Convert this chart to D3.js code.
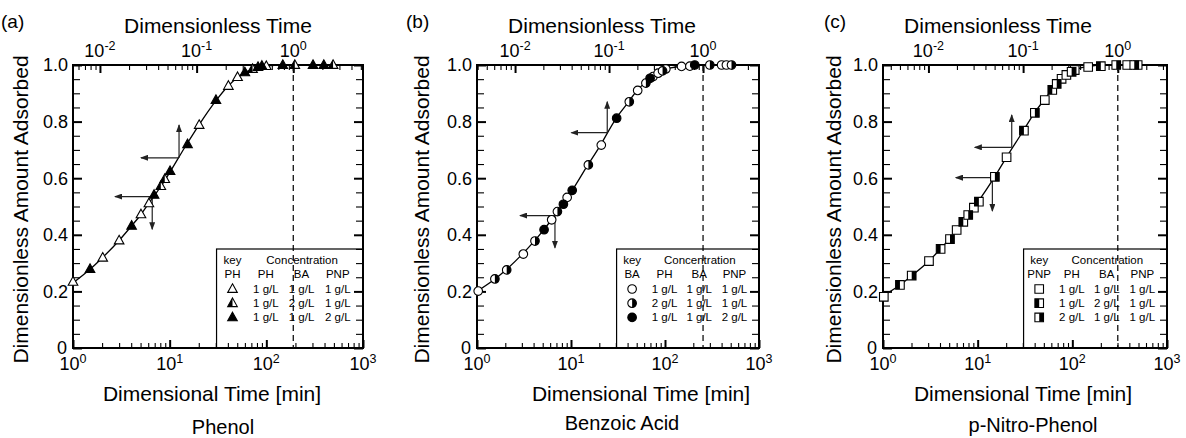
<!DOCTYPE html>
<html>
<head>
<meta charset="utf-8">
<title>Dimensionless uptake curves</title>
<script src="https://cdn.jsdelivr.net/npm/d3@7"></script>
<style>
  body { margin: 0; background: #fff; }
  svg text { font-family: "Liberation Sans", Arial, sans-serif; fill: #000; }
  .domain { display: none; }
  .tick line { stroke: #000; }
</style>
</head>
<body>
<div id="chart"></div>
<script>
// ---- data ----
const panelTags = ["(a)", "(b)", "(c)"];
const panelNames = ["Phenol", "Benzoic Acid", "p-Nitro-Phenol"];
const keyNames = ["PH", "BA", "PNP"];
const concHeaders = ["PH", "BA", "PNP"];
const tRef = [190, 254, 302];          // time [min] where dimensionless time = 1
const yTickValues = [0, 0.2, 0.4, 0.6, 0.8, 1.0];
const yTickLabels = ["0", "0.2", "0.4", "0.6", "0.8", "1.0"];
const bottomDecades = [0, 1, 2, 3];
const topDecades = [-2, -1, 0];

// legend rows: PH, BA, PNP concentrations
const concPhenol  = [["1 g/L", "1 g/L", "1 g/L"], ["1 g/L", "2 g/L", "1 g/L"], ["1 g/L", "1 g/L", "2 g/L"]];
const concBenzoic = [["1 g/L", "1 g/L", "1 g/L"], ["2 g/L", "1 g/L", "1 g/L"], ["1 g/L", "1 g/L", "2 g/L"]];
const concPnp     = [["1 g/L", "1 g/L", "1 g/L"], ["1 g/L", "2 g/L", "1 g/L"], ["2 g/L", "1 g/L", "1 g/L"]];

// measured points [time min, amount]
const phenolOpen = [[1.0, 0.234], [2.03, 0.319], [3.0, 0.380], [5.05, 0.472], [6.1, 0.511], [20.2, 0.788], [40.5, 0.926], [50.4, 0.957], [100, 0.996]];
const phenolHalf = [[8.1, 0.572], [8.9, 0.597], [72, 0.986], [197, 1.0], [490, 1.0]];
const phenolFull = [[1.5, 0.279], [4.04, 0.432], [6.9, 0.541], [10.1, 0.625], [15.3, 0.72], [30.1, 0.876], [60, 0.974], [82, 0.993], [90, 0.997], [148, 1.0], [304, 1.0], [393, 1.0]];

const benzoicOpen = [[1.03, 0.201], [3.11, 0.332], [6.23, 0.453], [9.1, 0.532], [21.0, 0.717], [51.2, 0.910], [74.7, 0.959], [84.5, 0.971], [102, 0.986], [150, 0.995], [184, 0.996], [400, 1.0], [450, 1.0]];
const benzoicHalf = [[1.55, 0.244], [2.07, 0.276], [4.14, 0.378], [7.17, 0.482], [15.3, 0.647], [41.7, 0.870], [62.6, 0.936], [94.2, 0.979], [300, 1.0], [510, 1.0]];
const benzoicFull = [[5.17, 0.418], [8.3, 0.508], [10.3, 0.557], [30.6, 0.812], [69.4, 0.953], [207, 1.0]];

const pnpOpen  = [[1.02, 0.181], [3.06, 0.307], [6.0, 0.417], [9.12, 0.496], [20.2, 0.674], [51.2, 0.876], [77, 0.951], [86.5, 0.965], [106, 0.982], [147, 0.993], [380, 1.0], [490, 1.0]];
const pnpHalfL = [[1.51, 0.223], [4.06, 0.350], [7.05, 0.446], [10.3, 0.517], [30.8, 0.768], [61.4, 0.912], [200, 0.996]];
const pnpHalfR = [[2.01, 0.256], [5.1, 0.385], [7.95, 0.470], [15.2, 0.605], [40.2, 0.831], [68.4, 0.933], [98.3, 0.976], [291, 1.0], [451, 1.0]];

// model curves
const phenolCurve = [[1, 0.23], [1.5, 0.278], [2, 0.318], [3, 0.38], [4, 0.43], [5, 0.47], [6, 0.508], [7, 0.54], [8, 0.568], [10, 0.62], [15, 0.72], [20, 0.787], [30, 0.873], [40, 0.925], [50, 0.955], [60, 0.973], [80, 0.99], [100, 0.997], [150, 1.0], [1000, 1.0]];
const benzoicCurve = [[1, 0.2], [1.5, 0.24], [2, 0.274], [3, 0.33], [4, 0.375], [5, 0.413], [6, 0.447], [7, 0.478], [8, 0.503], [10, 0.55], [15, 0.645], [20, 0.71], [30, 0.81], [40, 0.865], [50, 0.908], [60, 0.935], [80, 0.968], [100, 0.984], [150, 0.996], [200, 1.0], [1000, 1.0]];
const pnpCurve = [[1, 0.185], [1.5, 0.222], [2, 0.255], [3, 0.305], [4, 0.348], [5, 0.385], [6, 0.416], [7, 0.445], [8, 0.47], [10, 0.515], [15, 0.603], [20, 0.672], [30, 0.765], [40, 0.832], [50, 0.875], [60, 0.91], [80, 0.955], [100, 0.98], [150, 0.995], [200, 1.0], [1000, 1.0]];

// arrows [corner time, corner amount, left end time, vertical end amount]
const phenolArrows = [[12.5, 0.672, 5.05, 0.788], [6.6, 0.535, 2.72, 0.42]];
const benzoicArrows = [[24.3, 0.761, 10.1, 0.87], [6.75, 0.468, 2.87, 0.354]];
const pnpArrows = [[22.9, 0.709, 9.35, 0.823], [14.3, 0.602, 5.9, 0.484]];

// ---- layout ----
const W = 1186, H = 438;
const plotTop = 65, plotBottom = 348;
const layout = [
  { left: 73, right: 363, tagX: 1, yTitleX: 28, topTitleX: 218, botTitleX: 212, subX: 223, subY: 434 },
  { left: 477, right: 759, tagX: 406, yTitleX: 429, topTitleX: 602, botTitleX: 641, subX: 622, subY: 430 },
  { left: 883, right: 1167, tagX: 824, yTitleX: 841, topTitleX: 998, botTitleX: 1023, subX: 1033, subY: 432 }
];

const panels = [
  { series: [["tri", "open", phenolOpen], ["tri", "halfL", phenolHalf], ["tri", "full", phenolFull]],
    curve: phenolCurve, arrows: phenolArrows, conc: concPhenol },
  { series: [["circ", "open", benzoicOpen], ["circ", "halfR", benzoicHalf], ["circ", "full", benzoicFull]],
    curve: benzoicCurve, arrows: benzoicArrows, conc: concBenzoic },
  { series: [["sq", "open", pnpOpen], ["sq", "halfL", pnpHalfL], ["sq", "halfR", pnpHalfR]],
    curve: pnpCurve, arrows: pnpArrows, conc: concPnp }
];

const svg = d3.select("#chart").append("svg")
  .attr("width", W).attr("height", H)
  .style("display", "block");

const defs = svg.append("defs");
defs.append("marker")
  .attr("id", "arrowhead")
  .attr("markerUnits", "userSpaceOnUse")
  .attr("markerWidth", 8).attr("markerHeight", 6)
  .attr("refX", 7).attr("refY", 3)
  .attr("orient", "auto")
  .append("path").attr("d", "M0,0L8,3L0,6Z").attr("fill", "#222");

// marker glyph drawn at the origin of g
function drawMarker(g, shape, fill) {
  let outline, half;
  if (shape === "tri") {
    outline = "M0,-5.2L4.8,3.4L-4.8,3.4Z";
    half = fill === "halfL" ? "M0,-5.2L-4.8,3.4L0,3.4Z" : "M0,-5.2L4.8,3.4L0,3.4Z";
  } else if (shape === "circ") {
    outline = d3.arc()({ innerRadius: 0, outerRadius: 4.3, startAngle: 0, endAngle: 2 * Math.PI });
    half = fill === "halfL"
      ? d3.arc()({ innerRadius: 0, outerRadius: 4.3, startAngle: Math.PI, endAngle: 2 * Math.PI })
      : d3.arc()({ innerRadius: 0, outerRadius: 4.3, startAngle: 0, endAngle: Math.PI });
  } else {
    outline = "M-4.3,-4.3H4.3V4.3H-4.3Z";
    half = fill === "halfL" ? "M-4.3,-4.3H0V4.3H-4.3Z" : "M0,-4.3H4.3V4.3H0Z";
  }
  g.append("path").attr("d", outline)
    .attr("fill", fill === "full" ? "#000" : "#fff");
  if (fill === "halfL" || fill === "halfR") {
    g.append("path").attr("d", half).attr("fill", "#000");
  }
  g.append("path").attr("d", outline)
    .attr("fill", "none").attr("stroke", "#000").attr("stroke-width", 1.1);
}

function addPow(textSel, exp) {
  textSel.append("tspan").text("10");
  textSel.append("tspan").attr("dy", -7).attr("font-size", 12.5).text(exp);
}

panels.forEach((p, i) => {
  const L = layout[i];
  const w = L.right - L.left, h = plotBottom - plotTop;
  const x = d3.scaleLog().domain([1, 1000]).range([0, w]);
  const xTop = d3.scaleLog().domain([1 / tRef[i], 1000 / tRef[i]]).range([0, w]);
  const y = d3.scaleLinear().domain([0, 1]).range([h, 0]);

  const g = svg.append("g").attr("transform", `translate(${L.left},${plotTop})`);

  const isDecade = v => Math.abs(Math.log10(v) - Math.round(Math.log10(v))) < 1e-6;
  const minorB = x.ticks().filter(v => !isDecade(v));
  const majorB = x.ticks().filter(isDecade);
  const minorT = xTop.ticks().filter(v => !isDecade(v));
  const majorT = xTop.ticks().filter(isDecade);
  const yMinor = d3.range(0, 21).filter(k => k % 4 !== 0).map(k => k * 0.05);

  const axes = [
    [d3.axisBottom(x).tickValues(minorB).tickSize(-5), `translate(0,${h})`, 1.1],
    [d3.axisBottom(x).tickValues(majorB).tickSize(-8), `translate(0,${h})`, 2],
    [d3.axisTop(xTop).tickValues(minorT).tickSize(-5), null, 1.1],
    [d3.axisTop(xTop).tickValues(majorT).tickSize(-8), null, 2],
    [d3.axisLeft(y).tickValues(yMinor).tickSize(-7), null, 1.1],
    [d3.axisLeft(y).tickValues(yTickValues).tickSize(-9), null, 2],
    [d3.axisRight(y).tickValues(yMinor).tickSize(-7), `translate(${w},0)`, 1.1],
    [d3.axisRight(y).tickValues(yTickValues).tickSize(-9), `translate(${w},0)`, 2]
  ];
  axes.forEach(([ax, tr, sw]) => {
    const a = g.append("g").call(ax.tickFormat(""));
    if (tr) a.attr("transform", tr);
    a.selectAll(".tick line").attr("stroke-width", sw);
  });

  // frame
  g.append("rect").attr("width", w).attr("height", h)
    .attr("fill", "none").attr("stroke", "#000").attr("stroke-width", 2);

  // tick labels
  bottomDecades.forEach(d => {
    const t = g.append("text").attr("x", x(Math.pow(10, d))).attr("y", h + 22)
      .attr("text-anchor", "middle").attr("font-size", 18);
    addPow(t, String(d));
  });
  topDecades.forEach(d => {
    const t = g.append("text").attr("x", xTop(Math.pow(10, d))).attr("y", -8)
      .attr("text-anchor", "middle").attr("font-size", 18);
    addPow(t, d < 0 ? "-" + Math.abs(d) : String(d));
  });
  yTickValues.forEach((v, k) => {
    g.append("text").attr("x", v === 0 ? -6 : -5).attr("y", y(v) + (v === 0 ? 5.5 : 6.3))
      .attr("text-anchor", "end").attr("font-size", 18).text(yTickLabels[k]);
  });

  // dashed reference line
  g.append("line")
    .attr("x1", x(tRef[i])).attr("x2", x(tRef[i]))
    .attr("y1", 0).attr("y2", h)
    .attr("stroke", "#111").attr("stroke-width", 1.3)
    .attr("stroke-dasharray", "6,4");

  // legend
  const lx = w - 0.505 * w, ly = h - 99;
  const lg = g.append("g").attr("transform", `translate(${lx},${ly})`);
  lg.append("rect").attr("width", w - lx).attr("height", 99)
    .attr("fill", "none").attr("stroke", "#000").attr("stroke-width", 1.2);
  const col = [w - 0.45 * w, w - 0.335 * w, w - 0.212 * w, w - 0.087 * w].map(c => c - lx);
  const lt = (cx, cy, s) => lg.append("text").attr("x", cx).attr("y", cy)
    .attr("text-anchor", "middle").attr("font-size", 11.5).text(s);
  lt(col[0], 15, "key");
  lt(w - 0.21 * w - lx, 15, "Concentration");
  lt(col[0], 29, keyNames[i]);
  concHeaders.forEach((s, k) => lt(col[k + 1], 29, s));
  p.series.forEach((s, r) => {
    const by = 44 + r * 14.2;
    drawMarker(lg.append("g").attr("transform", `translate(${col[0]},${by - 4})`), s[0], s[1]);
    p.conc[r].forEach((c, k) => lt(col[k + 1], by, c));
  });

  // model curve
  const line = d3.line().x(d => x(d[0])).y(d => y(d[1])).curve(d3.curveMonotoneX);
  g.append("path").datum(p.curve).attr("d", line)
    .attr("fill", "none").attr("stroke", "#000").attr("stroke-width", 1.3);

  // arrows
  p.arrows.forEach(a => {
    const cx = x(a[0]), cy = y(a[1]);
    g.append("line").attr("x1", cx).attr("y1", cy).attr("x2", x(a[2])).attr("y2", cy)
      .attr("stroke", "#222").attr("stroke-width", 1.2).attr("marker-end", "url(#arrowhead)");
    g.append("line").attr("x1", cx).attr("y1", cy).attr("x2", cx).attr("y2", y(a[3]))
      .attr("stroke", "#222").attr("stroke-width", 1.2).attr("marker-end", "url(#arrowhead)");
  });

  // measured points
  p.series.forEach(s => {
    s[2].forEach(d => {
      drawMarker(g.append("g").attr("transform", `translate(${x(d[0])},${y(d[1])})`), s[0], s[1]);
    });
  });

  // titles
  svg.append("text").attr("x", L.tagX).attr("y", 28).attr("font-size", 19).text(panelTags[i]);
  svg.append("text").attr("x", L.topTitleX).attr("y", 33).attr("text-anchor", "middle")
    .attr("font-size", 21).text("Dimensionless Time");
  svg.append("text").attr("x", L.botTitleX).attr("y", 401).attr("text-anchor", "middle")
    .attr("font-size", 21).text("Dimensional Time [min]");
  svg.append("text").attr("x", L.subX).attr("y", L.subY).attr("text-anchor", "middle")
    .attr("font-size", 20).text(panelNames[i]);
  svg.append("text")
    .attr("transform", `translate(${L.yTitleX},${(plotTop + plotBottom) / 2 + 3}) rotate(-90)`)
    .attr("text-anchor", "middle").attr("font-size", 21)
    .text("Dimensionless Amount Adsorbed");
});
</script>
</body>
</html>
